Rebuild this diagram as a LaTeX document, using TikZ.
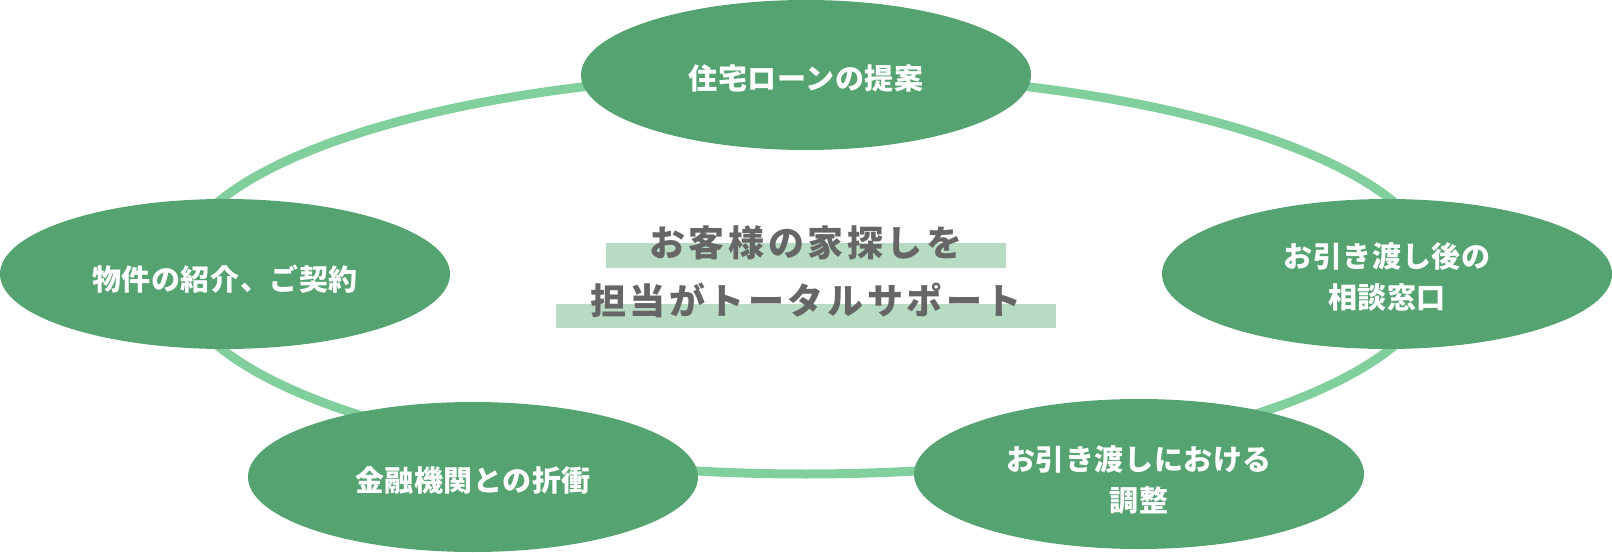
\documentclass[tikz,border=0pt]{standalone}
\usepackage{fontspec}
\usetikzlibrary{shapes.geometric}
\newfontfamily\jpnode{Noto Sans CJK JP}[LetterSpace=2]
\newfontfamily\jpcenter{Noto Sans CJK JP}[LetterSpace=10]
\definecolor{ellgreen}{HTML}{56A372}
\definecolor{ringgreen}{HTML}{80CF9C}
\definecolor{bargreen}{HTML}{B8DCC3}
\definecolor{textgray}{HTML}{666666}
\tikzset{
  ringshape/.style={draw=ringgreen, line width=9pt, ellipse, inner sep=0pt, minimum width=1260pt, minimum height=400pt},
  ell/.style={fill=ellgreen, ellipse, inner sep=0pt, minimum width=450pt, minimum height=150pt},
  lbl/.style={text=white, font=\jpnode\bfseries\fontsize{29}{41}\selectfont, align=center, inner sep=0pt},
  bar/.style={fill=bargreen, draw=none},
  ctext/.style={text=textgray, font=\jpcenter\bfseries\fontsize{36}{57}\selectfont, inner sep=0pt}
}
\begin{document}
\begin{tikzpicture}[x=1pt, y=-1pt]
\useasboundingbox (0,0) rectangle (1612,553);
\node[ringshape] (ring) at (806,274) {};
\node[ell] (top) at (806,75) {};
\node[ell] (left) at (225,274) {};
\node[ell] (right) at (1387,274) {};
\node[ell] (bl) at (473,477) {};
\node[ell] (br) at (1139,474) {};
\node[lbl] (ttop) at ([yshift=-3pt]top.center) {住宅ローンの提案};
\node[lbl] (tleft) at ([yshift=-5pt]left.center) {物件の紹介、ご契約};
\node[lbl] (tright) at ([yshift=-3pt]right.center) {お引き渡し後の\\相談窓口};
\node[lbl] (tbl) at ([yshift=-3pt]bl.center) {金融機関との折衝};
\node[lbl] (tbr) at ([yshift=-6pt]br.center) {お引き渡しにおける\\調整};
\fill[bar] (606,243) rectangle (1006,268);
\fill[bar] (556,304) rectangle (1056,328);
\node[ctext] (c1) at (806,243) {お客様の家探しを};
\node[ctext] (c2) at (806,300) {担当がトータルサポート};
\end{tikzpicture}
\end{document}
